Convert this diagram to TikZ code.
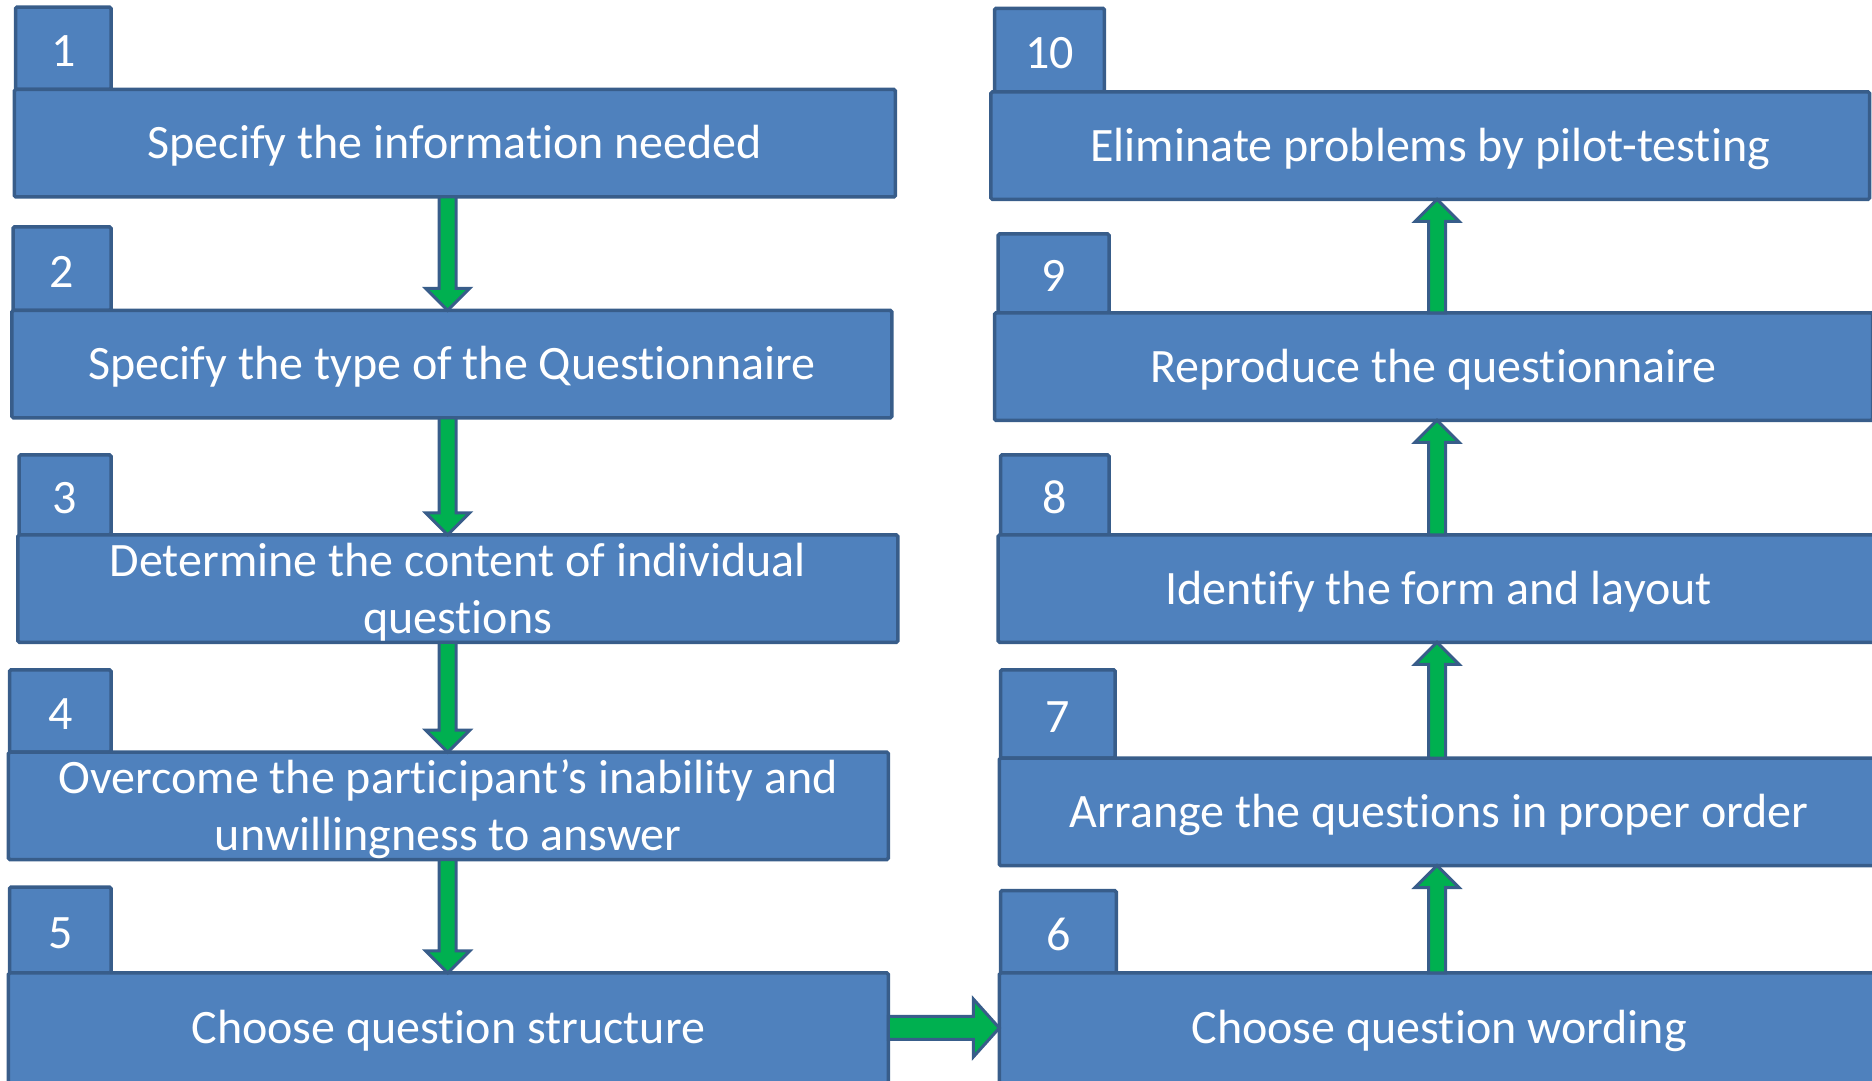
\documentclass[tikz,border=0pt]{standalone}
\usepackage{fontspec}
\setmainfont{Carlito}[RawFeature={-liga;-clig;-calt}]
\usetikzlibrary{calc}
\definecolor{boxfill}{HTML}{4F81BD}
\definecolor{boxline}{HTML}{385D8A}
\definecolor{flowgreen}{HTML}{00B050}
\def\flowarrow(#1)(#2)(#3:#4:#5){\draw[flow] ($(#1)!#3!90:(#2)$) -- ($(#2)!#5!(#1)!#3!-90:(#1)$) -- ($(#2)!#5!(#1)!#4!-90:(#1)$) -- (#2) -- ($(#2)!#5!(#1)!#4!90:(#1)$) -- ($(#2)!#5!(#1)!#3!90:(#1)$) -- ($(#1)!#3!-90:(#2)$) -- cycle;}

\begin{document}
\begin{tikzpicture}[x=1pt, y=1pt,
		stepbox/.style={draw=boxline, fill=boxfill, line width=3.5pt, rounded corners=1.5pt, inner sep=0pt, outer sep=0pt, anchor=south west, text=white, align=center, font=\fontsize{48}{57}\selectfont, text height=37.5pt, text depth=6pt},
		twoline/.style={text height=95pt, text depth=6pt},
		tabbox/.style={stepbox, text height=37pt, text depth=0pt},
		flow/.style={draw=boxline, fill=flowgreen, line width=3pt, line join=miter}]
			%%%%% START %%%%%
			
			\useasboundingbox (0, 0) rectangle (1872, 1081);
			
			\coordinate (lx) at (447.7, 0);
			\coordinate (rx) at (1437, 0);
			
			% left column
			\node[tabbox, minimum width=95.5, minimum height=82.3] (n1) at (15.5, 991.5) {1};
			\node[stepbox, minimum width=881.1, minimum height=107.5] (s1) at (14.3, 884) {Specify the information needed};
			
			\node[tabbox, minimum width=97.9, minimum height=83.6] (n2) at (13.1, 770.6) {2};
			\node[stepbox, minimum width=879.9, minimum height=107.5] (s2) at (11.9, 663.1) {Specify the type of the Questionnaire};
			
			\node[tabbox, minimum width=91.9, minimum height=80] (n3) at (19.1, 546.1) {3};
			\node[stepbox, twoline, minimum width=879.9, minimum height=107.4] (s3) at (17.9, 438.7) {Determine the content of individual\\questions};
			
			\node[tabbox, minimum width=101.4, minimum height=82.4] (n4) at (9.6, 328.8) {4};
			\node[stepbox, twoline, minimum width=879.9, minimum height=107.4] (s4) at (8.4, 221.4) {Overcome the participant’s inability and\\unwillingness to answer};
			
			\node[tabbox, minimum width=101.4, minimum height=85.9] (n5) at (9.6, 108) {5};
			\node[stepbox, minimum width=879.9, minimum height=110] (s5) at (8.4, -2) {Choose question structure};
			
			% right column
			\node[tabbox, minimum width=109.9, minimum height=83.5] (n10) at (994.5, 989.1) {10};
			\node[stepbox, minimum width=878.7, minimum height=107.5] (s10) at (990.9, 881.6) {Eliminate problems by pilot-testing};
			
			\node[tabbox, minimum width=111, minimum height=78.8] (n9) at (998.1, 768.2) {9};
			\node[stepbox, minimum width=878, minimum height=107.5] (s9) at (994.5, 660.7) {Reproduce the questionnaire};
			
			\node[tabbox, minimum width=108.6, minimum height=80] (n8) at (1000.5, 546.1) {8};
			\node[stepbox, minimum width=881, minimum height=107.4] (s8) at (998.1, 438.7) {Identify the form and layout};
			
			\node[tabbox, minimum width=114.6, minimum height=88.3] (n7) at (1000.5, 322.9) {7};
			\node[stepbox, minimum width=879.7, minimum height=107.5] (s7) at (999.3, 215.4) {Arrange the questions in proper order};
			
			\node[tabbox, minimum width=115.8, minimum height=82.4] (n6) at (1000.5, 108) {6};
			\node[stepbox, minimum width=879.7, minimum height=110] (s6) at (999.3, -2) {Choose question wording};
			
			% arrows
			\flowarrow(lx |- s1.south)(lx |- s2.north)(8.5pt:22pt:22pt)
			\flowarrow(lx |- s2.south)(lx |- s3.north)(8.5pt:22pt:22pt)
			\flowarrow(lx |- s3.south)(lx |- s4.north)(8.5pt:22pt:22pt)
			\flowarrow(lx |- s4.south)(lx |- s5.north)(8.5pt:22pt:22pt)
			\flowarrow(s5.east)(s6.west)(11.5pt:29pt:26pt)
			\flowarrow(rx |- s6.north)(rx |- s7.south)(8.5pt:22pt:22pt)
			\flowarrow(rx |- s7.north)(rx |- s8.south)(8.5pt:22pt:22pt)
			\flowarrow(rx |- s8.north)(rx |- s9.south)(8.5pt:22pt:22pt)
			\flowarrow(rx |- s9.north)(rx |- s10.south)(8.5pt:22pt:22pt)
			
			%%%%% END %%%%%
\end{tikzpicture}
\end{document}
